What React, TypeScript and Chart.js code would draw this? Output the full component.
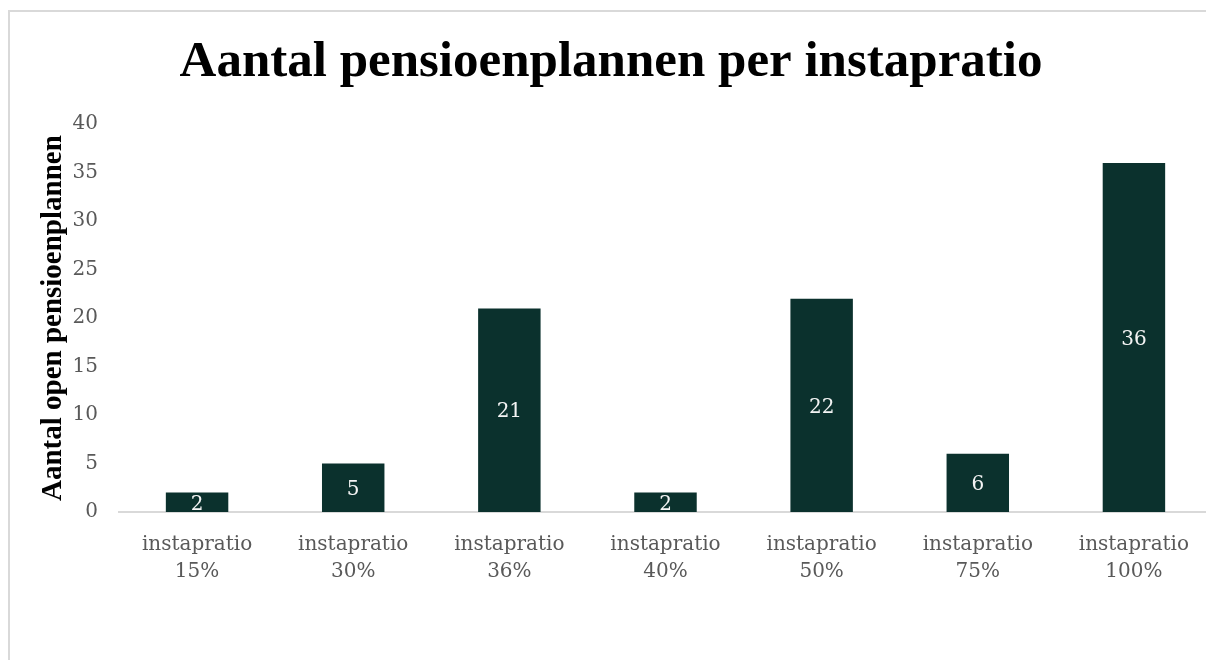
import React, { useEffect, useRef } from "react";
import { Chart, registerables } from "chart.js";

Chart.register(...registerables);

const categoryNames = ["instapratio", "instapratio", "instapratio", "instapratio", "instapratio", "instapratio", "instapratio"];
const categoryRatios = ["15%", "30%", "36%", "40%", "50%", "75%", "100%"];
const values = [2, 5, 21, 2, 22, 6, 36];
const yMin = 0;
const yMax = 40;
const yStep = 5;
const chartTitle = "Aantal pensioenplannen per instapratio";
const yTitle = "Aantal open pensioenplannen";

const barLabelPlugin = {
  id: "barLabels",
  afterDatasetsDraw(chart: any) {
    const ctx = chart.ctx;
    const meta = chart.getDatasetMeta(0);
    ctx.save();
    ctx.font = "20px 'DejaVu Serif'";
    ctx.fillStyle = "#f4f4f4";
    ctx.textAlign = "center";
    ctx.textBaseline = "middle";
    meta.data.forEach((bar: any, i: number) => {
      const { x, y, base } = bar.getProps(["x", "y", "base"], true);
      ctx.fillText(String(values[i]), x, (y + base) / 2 + 2);
    });
    ctx.restore();
  },
};

export default function App() {
  const ref = useRef<HTMLCanvasElement | null>(null);

  useEffect(() => {
    if (!ref.current) return;
    const labels = categoryNames.map((n, i) => [n, categoryRatios[i]]);
    const chart = new Chart(ref.current, {
      type: "bar",
      data: {
        labels,
        datasets: [
          {
            data: values,
            backgroundColor: "#0b312d",
            borderWidth: 0,
            barPercentage: 0.4,
            categoryPercentage: 1,
          },
        ],
      },
      options: {
        responsive: false,
        animation: false,
        layout: { padding: { left: 0, right: 4, top: 0, bottom: 68 } },
        plugins: {
          legend: { display: false },
          tooltip: { enabled: false },
          title: {
            display: true,
            text: chartTitle,
            color: "#000000",
            font: { family: "'Liberation Serif'", size: 51, weight: "bold", lineHeight: 1.2 },
            padding: { top: 20, bottom: 31 },
          },
        },
        scales: {
          x: {
            grid: { display: false, drawTicks: false },
            border: { display: true, color: "#d9d9d9", width: 2 },
            ticks: {
              color: "#595959",
              font: { family: "'DejaVu Serif'", size: 20, lineHeight: 1.35 },
              padding: 19,
              maxRotation: 0,
              autoSkip: false,
            },
            afterFit: (scale: any) => {
              scale.height = 80;
            },
          },
          y: {
            min: yMin,
            max: yMax,
            grid: { display: false, drawTicks: false },
            border: { display: false },
            ticks: {
              stepSize: yStep,
              color: "#595959",
              font: { family: "'DejaVu Serif'", size: 20 },
              padding: 21,
            },
            title: {
              display: true,
              text: yTitle,
              color: "#000000",
              font: { family: "'Liberation Serif'", size: 29, weight: "bold", lineHeight: 1.2 },
              padding: { top: 26, bottom: 0 },
            },
            afterFit: (scale: any) => {
              scale.width = 109;
            },
          },
        },
      },
      plugins: [barLabelPlugin],
    });
    return () => chart.destroy();
  }, []);

  return (
    <div style={{ position: "fixed", left: 0, top: 0, width: 1206, height: 660, overflow: "hidden", background: "#ffffff" }}>
      <div
        style={{
          position: "absolute",
          left: 8,
          top: 10,
          width: 1230,
          height: 700,
          borderTop: "2px solid #d9d9d9",
          borderLeft: "2px solid #d9d9d9",
          boxSizing: "border-box",
        }}
      >
        <canvas ref={ref} width={1206} height={648} style={{ display: "block", width: 1206, height: 648 }} />
      </div>
    </div>
  );
}
